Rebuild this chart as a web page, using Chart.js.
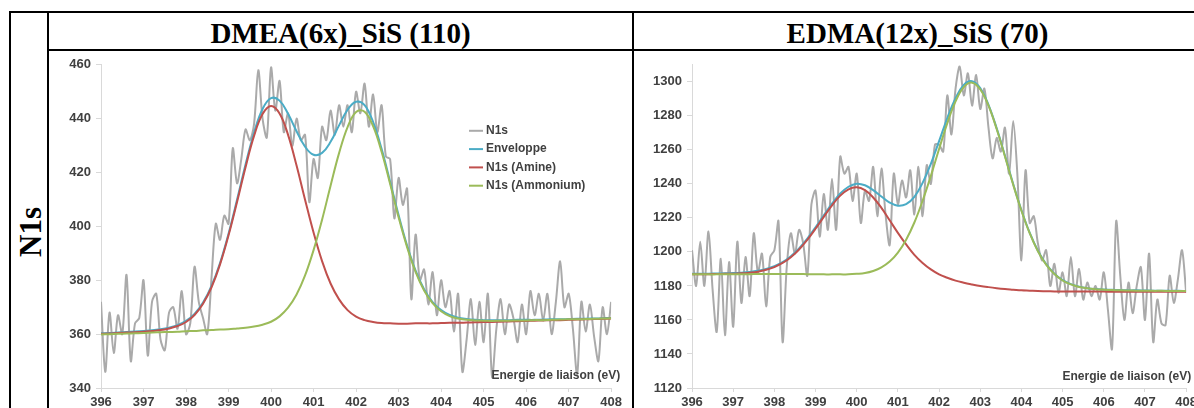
<!DOCTYPE html>
<html>
<head>
<meta charset="utf-8">
<script src="https://cdn.jsdelivr.net/npm/chart.js@4.4.1/dist/chart.umd.min.js"></script>
<style>
  body { margin: 0; width: 1194px; height: 408px; overflow: hidden; background: #fff; position: relative;
         font-family: "Liberation Serif", "Times New Roman", serif; }
  .rule { position: absolute; background: #000; }
  .head { position: absolute; top: 14px; height: 38px; line-height: 38px; font-size: 29px; font-weight: bold;
          text-align: center; white-space: nowrap; }
  .side { position: absolute; left: -9px; top: 216px; width: 80px; height: 32px; line-height: 32px;
          font-size: 31px; font-weight: bold; text-align: center; transform: rotate(-90deg); }
  canvas { position: absolute; }
</style>
</head>
<body>
<div class="rule" style="left:9px; top:11px; width:1185px; height:2px"></div>
<div class="rule" style="left:9px; top:11px; width:2px; height:397px"></div>
<div class="rule" style="left:47px; top:11px; width:2px; height:397px"></div>
<div class="rule" style="left:47px; top:49px; width:1147px; height:2px"></div>
<div class="rule" style="left:632px; top:11px; width:2px; height:397px"></div>

<div class="head" style="left:49px; width:583px">DMEA(6x)_SiS (110)</div>
<div class="head" style="left:634px; width:567px">EDMA(12x)_SiS (70)</div>
<div class="side">N1s</div>

<canvas id="dmea" width="570" height="354" style="left:55px; top:52px; width:570px; height:354px"></canvas>
<canvas id="edma" width="560" height="354" style="left:640px; top:52px; width:560px; height:354px"></canvas>

<script>
// binding energy grids (eV)
const energyRaw = [
  396.0, 396.1, 396.2, 396.3, 396.4, 396.5, 396.6, 396.7, 396.8, 396.9,
  397.0, 397.1, 397.2, 397.3, 397.4, 397.5, 397.6, 397.7, 397.8, 397.9,
  398.0, 398.1, 398.2, 398.3, 398.4, 398.5, 398.6, 398.7, 398.8, 398.9,
  399.0, 399.1, 399.2, 399.3, 399.4, 399.5, 399.6, 399.7, 399.8, 399.9,
  400.0, 400.1, 400.2, 400.3, 400.4, 400.5, 400.6, 400.7, 400.8, 400.9,
  401.0, 401.1, 401.2, 401.3, 401.4, 401.5, 401.6, 401.7, 401.8, 401.9,
  402.0, 402.1, 402.2, 402.3, 402.4, 402.5, 402.6, 402.7, 402.8, 402.9,
  403.0, 403.1, 403.2, 403.3, 403.4, 403.5, 403.6, 403.7, 403.8, 403.9,
  404.0, 404.1, 404.2, 404.3, 404.4, 404.5, 404.6, 404.7, 404.8, 404.9,
  405.0, 405.1, 405.2, 405.3, 405.4, 405.5, 405.6, 405.7, 405.8, 405.9,
  406.0, 406.1, 406.2, 406.3, 406.4, 406.5, 406.6, 406.7, 406.8, 406.9,
  407.0, 407.1, 407.2, 407.3, 407.4, 407.5, 407.6, 407.7, 407.8, 407.9,
  408.0
];
const energyFit = [
  396.0, 396.2, 396.4, 396.6, 396.8, 397.0, 397.2, 397.4, 397.6, 397.8,
  398.0, 398.2, 398.4, 398.6, 398.8, 399.0, 399.2, 399.4, 399.6, 399.8,
  400.0, 400.2, 400.4, 400.6, 400.8, 401.0, 401.2, 401.4, 401.6, 401.8,
  402.0, 402.2, 402.4, 402.6, 402.8, 403.0, 403.2, 403.4, 403.6, 403.8,
  404.0, 404.2, 404.4, 404.6, 404.8, 405.0, 405.2, 405.4, 405.6, 405.8,
  406.0, 406.2, 406.4, 406.6, 406.8, 407.0, 407.2, 407.4, 407.6, 407.8,
  408.0
];

const xTicks = [396, 397, 398, 399, 400, 401, 402, 403, 404, 405, 406, 407, 408];
const dmeaTicks = [340, 360, 380, 400, 420, 440, 460];
const edmaTicks = [1120, 1140, 1160, 1180, 1200, 1220, 1240, 1260, 1280, 1300];

const seriesNames = ['N1s', 'Enveloppe', 'N1s (Amine)', 'N1s (Ammonium)'];
const seriesColors = ['#aaaaaa', '#4bacc6', '#c0504d', '#9bbb59'];
const xTitle = 'Energie de liaison (eV)';

// DMEA(6x)_SiS (110)
const dmeaN1s = [
  372, 346, 368, 353, 367, 360, 382, 350, 364, 366,
  380, 352, 372, 375, 358, 354, 368, 370, 362, 376,
  360, 364, 385, 372, 366, 360, 381, 401, 395, 404,
  401, 429, 416, 425, 436, 432, 438, 458, 440, 433,
  459, 443, 454, 435, 442, 430, 440, 432, 434, 409,
  425, 418, 437, 432, 443, 434, 445, 437, 445, 435,
  450, 442, 453, 437, 449, 435, 445, 426, 425, 403,
  418, 408, 414, 373, 397, 380, 384, 371, 383, 367,
  380, 370, 376, 361, 375, 346, 358, 373, 356, 372,
  357, 375, 344, 362, 373, 360, 371, 366, 357, 371,
  360, 376, 367, 375, 365, 375, 360, 372, 387, 370,
  375, 362, 345, 372, 361, 371, 359, 350, 370, 360,
  372
];
const dmeaEnvelope = [
  360.3, 360.4, 360.6, 360.8, 361.0, 361.2, 361.4, 361.8, 362.4, 363.3,
  364.9, 367.5, 371.7, 377.9, 386.4, 397.3, 409.9, 423.0, 434.8, 443.6,
  447.6, 446.7, 441.8, 435.3, 429.6, 426.6, 427.3, 431.4, 437.5, 443.3,
  446.3, 445.0, 438.8, 428.8, 416.6, 404.2, 392.9, 383.6, 376.7, 371.9,
  368.9, 367.1, 366.1, 365.6, 365.3, 365.2, 365.2, 365.2, 365.2, 365.3,
  365.3, 365.3, 365.4, 365.5, 365.5, 365.6, 365.7, 365.7, 365.8, 365.9,
  366.0
];
const dmeaAmine = [
  360.1, 360.2, 360.4, 360.6, 360.7, 360.9, 361.2, 361.5, 362.1, 363.0,
  364.5, 367.1, 371.3, 377.4, 385.9, 396.7, 409.1, 422.0, 433.6, 441.7,
  444.7, 441.9, 434.0, 422.6, 409.9, 397.7, 387.1, 378.8, 372.9, 368.9,
  366.5, 365.2, 364.5, 364.1, 364.0, 363.9, 363.9, 364.0, 364.0, 364.0,
  364.1, 364.2, 364.2, 364.3, 364.4, 364.5, 364.5, 364.6, 364.7, 364.8,
  364.9, 365.0, 365.1, 365.2, 365.2, 365.3, 365.4, 365.5, 365.6, 365.7,
  365.8
];
const dmeaAmmonium = [
  359.9, 360.0, 360.1, 360.2, 360.3, 360.4, 360.6, 360.7, 360.8, 360.9,
  361.1, 361.2, 361.4, 361.5, 361.7, 361.8, 362.1, 362.4, 362.8, 363.5,
  364.6, 366.6, 369.8, 374.7, 381.8, 391.2, 402.5, 415.1, 427.2, 436.9,
  442.5, 442.6, 437.2, 427.7, 415.8, 403.4, 392.3, 383.1, 376.2, 371.5,
  368.5, 366.7, 365.8, 365.3, 365.1, 365.0, 364.9, 365.0, 365.0, 365.1,
  365.1, 365.2, 365.2, 365.3, 365.4, 365.5, 365.5, 365.6, 365.7, 365.8,
  365.9
];

// EDMA(12x)_SiS (70)
const edmaN1s = [
  1201, 1180, 1206, 1180, 1212, 1178, 1153, 1196, 1151, 1194,
  1156, 1206, 1170, 1197, 1174, 1211, 1188, 1199, 1168, 1197,
  1201, 1218, 1147, 1191, 1211, 1199, 1213, 1205, 1186, 1228,
  1236, 1209, 1234, 1213, 1243, 1213, 1256, 1246, 1250, 1230,
  1246, 1217, 1236, 1230, 1250, 1221, 1249, 1222, 1204, 1246,
  1228, 1242, 1232, 1248, 1222, 1250, 1221, 1251, 1240, 1263,
  1263, 1259, 1292, 1269, 1296, 1309, 1292, 1305, 1286, 1304,
  1284, 1296, 1273, 1255, 1267, 1259, 1273, 1246, 1277, 1246,
  1195, 1248, 1217, 1221, 1205, 1195, 1201, 1180, 1193, 1176,
  1188, 1174, 1197, 1174, 1190, 1172, 1182, 1174, 1180, 1172,
  1188, 1166, 1143, 1218, 1186, 1160, 1182, 1164, 1180, 1191,
  1160, 1199, 1147, 1172, 1158, 1157, 1186, 1170, 1184, 1201,
  1176
];
const edmaEnvelope = [
  1187.1, 1187.2, 1187.2, 1187.3, 1187.4, 1187.6, 1187.8, 1188.2, 1188.9, 1190.0,
  1191.6, 1194.0, 1197.5, 1202.1, 1207.8, 1214.5, 1221.5, 1228.4, 1234.3, 1238.3,
  1240.1, 1239.2, 1236.3, 1232.6, 1229.0, 1227.2, 1228.1, 1232.4, 1240.6, 1251.8,
  1265.1, 1278.7, 1290.4, 1298.2, 1300.4, 1296.3, 1286.5, 1272.6, 1256.5, 1239.9,
  1224.5, 1211.3, 1200.7, 1192.8, 1187.2, 1183.4, 1181.1, 1179.6, 1178.7, 1178.2,
  1177.9, 1177.7, 1177.6, 1177.4, 1177.4, 1177.3, 1177.2, 1177.2, 1177.1, 1177.1,
  1177.0
];
const edmaAmine = [
  1186.8, 1186.9, 1186.9, 1187.0, 1187.1, 1187.2, 1187.4, 1187.8, 1188.4, 1189.5,
  1191.1, 1193.5, 1196.9, 1201.4, 1207.1, 1213.6, 1220.6, 1227.4, 1233.1, 1236.8,
  1238.0, 1236.3, 1232.0, 1225.9, 1218.6, 1211.2, 1204.4, 1198.3, 1193.5, 1189.7,
  1186.8, 1184.8, 1183.1, 1181.9, 1180.9, 1180.0, 1179.3, 1178.7, 1178.2, 1177.8,
  1177.4, 1177.2, 1177.0, 1176.9, 1176.8, 1176.7, 1176.7, 1176.7, 1176.7, 1176.7,
  1176.7, 1176.6, 1176.6, 1176.6, 1176.6, 1176.6, 1176.6, 1176.6, 1176.6, 1176.6,
  1176.6
];
const edmaAmmonium = [
  1186.8, 1186.8, 1186.8, 1186.8, 1186.9, 1186.9, 1186.9, 1186.9, 1187.0, 1187.0,
  1187.0, 1187.0, 1187.0, 1187.0, 1186.9, 1186.9, 1186.8, 1186.8, 1186.8, 1186.8,
  1187.1, 1187.6, 1188.8, 1190.9, 1194.3, 1199.6, 1207.2, 1217.3, 1230.1, 1244.7,
  1260.5, 1275.7, 1288.5, 1296.9, 1299.5, 1295.6, 1286.0, 1272.1, 1256.1, 1239.5,
  1224.2, 1211.0, 1200.4, 1192.5, 1187.0, 1183.2, 1180.9, 1179.4, 1178.6, 1178.1,
  1177.8, 1177.6, 1177.4, 1177.3, 1177.2, 1177.2, 1177.1, 1177.1, 1177.0, 1177.0,
  1177.0
];

Chart.defaults.font.family = '"Liberation Sans", Arial, sans-serif';
const labelGrey = '#404040';
const axisGrey = '#d9d9d9';

function toPoints(xs, ys) {
  return ys.map((y, i) => ({ x: xs[i], y: y }));
}

// legend drawn inside the plot area, one row per series
const insideLegend = {
  id: 'insideLegend',
  afterDatasetsDraw(chart, args, opts) {
    if (!opts || !opts.display) return;
    const { ctx, chartArea } = chart;
    ctx.save();
    ctx.font = 'bold 12px "Liberation Sans", Arial, sans-serif';
    ctx.textBaseline = 'middle';
    ctx.textAlign = 'left';
    chart.data.datasets.forEach((ds, i) => {
      const x = chartArea.left + opts.left;
      const y = chartArea.top + opts.top + i * opts.rowHeight;
      ctx.strokeStyle = ds.borderColor;
      ctx.lineWidth = 2;
      ctx.beginPath();
      ctx.moveTo(x, y);
      ctx.lineTo(x + 14, y);
      ctx.stroke();
      ctx.fillStyle = labelGrey;
      ctx.fillText(ds.label, x + 17, y);
    });
    ctx.restore();
  }
};

// x axis title sits above the axis, right aligned
const energyTitle = {
  id: 'energyTitle',
  afterDraw(chart, args, opts) {
    const { ctx, chartArea } = chart;
    ctx.save();
    ctx.font = 'bold 12px "Liberation Sans", Arial, sans-serif';
    ctx.fillStyle = labelGrey;
    ctx.textAlign = 'right';
    ctx.textBaseline = 'middle';
    ctx.fillText(opts.text, chartArea.right + opts.dx, chartArea.bottom + opts.dy);
    ctx.restore();
  }
};

function makeDatasets(raw, env, amine, ammonium) {
  const sets = [raw, env, amine, ammonium];
  return sets.map((vals, i) => ({
    label: seriesNames[i],
    data: toPoints(i === 0 ? energyRaw : energyFit, vals),
    borderColor: seriesColors[i],
    backgroundColor: seriesColors[i],
    borderWidth: 2,
    pointRadius: 0,
    tension: i === 0 ? 0.3 : 0.4,
    fill: false,
    order: 4 - i
  }));
}

function makeScales(yMin, yMax, yTicks, yWidth) {
  const tickFont = { size: 13, weight: 'bold' };
  return {
    x: {
      type: 'linear', min: 396, max: 408,
      afterBuildTicks: axis => { axis.ticks = xTicks.map(v => ({ value: v })); },
      afterFit: axis => { axis.height = 18; },
      grid: { drawOnChartArea: false, tickLength: 4, color: axisGrey },
      border: { color: axisGrey, width: 1 },
      ticks: { color: labelGrey, font: tickFont, padding: 3, maxRotation: 0, autoSkip: false,
               callback: v => String(v) }
    },
    y: {
      type: 'linear', min: yMin, max: yMax,
      afterBuildTicks: axis => { axis.ticks = yTicks.map(v => ({ value: v })); },
      afterFit: axis => { axis.width = yWidth; },
      grid: { drawOnChartArea: false, tickLength: 5, color: axisGrey },
      border: { color: axisGrey, width: 1 },
      ticks: { color: labelGrey, font: tickFont, padding: 5, autoSkip: false,
               callback: v => String(v) }
    }
  };
}

new Chart(document.getElementById('dmea'), {
  type: 'line',
  data: { datasets: makeDatasets(dmeaN1s, dmeaEnvelope, dmeaAmine, dmeaAmmonium) },
  options: {
    responsive: false,
    animation: false,
    layout: { padding: { top: 8, right: 13, left: 0, bottom: 0 } },
    scales: makeScales(340, 460, dmeaTicks, 46),
    plugins: {
      legend: { display: false },
      tooltip: { enabled: false },
      insideLegend: { display: true, left: 368, top: 66, rowHeight: 18.3 },
      energyTitle: { text: xTitle, dx: 9, dy: -12.5 }
    }
  },
  plugins: [insideLegend, energyTitle]
});

new Chart(document.getElementById('edma'), {
  type: 'line',
  data: { datasets: makeDatasets(edmaN1s, edmaEnvelope, edmaAmine, edmaAmmonium) },
  options: {
    responsive: false,
    animation: false,
    layout: { padding: { top: 9, right: 12, left: 0, bottom: 0 } },
    scales: makeScales(1120, 1310, edmaTicks, 52),
    plugins: {
      legend: { display: false },
      tooltip: { enabled: false },
      insideLegend: { display: false },
      energyTitle: { text: xTitle, dx: 5, dy: -11 }
    }
  },
  plugins: [insideLegend, energyTitle]
});
</script>
</body>
</html>
